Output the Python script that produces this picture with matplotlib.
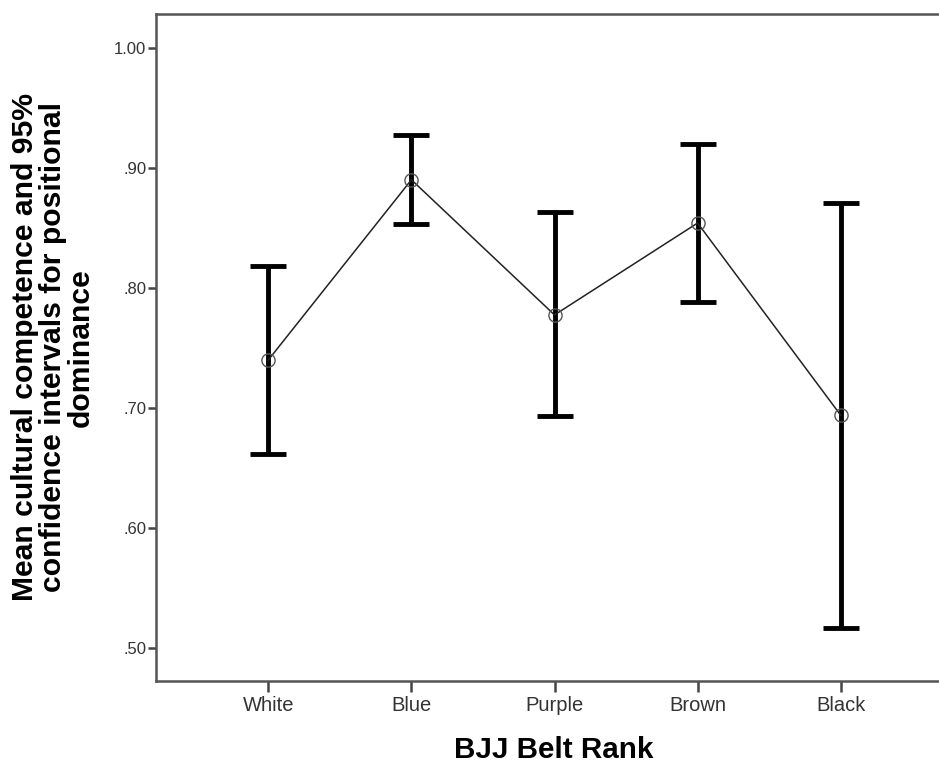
import matplotlib
matplotlib.use("Agg")
import matplotlib.pyplot as plt

belts = ["White", "Blue", "Purple", "Brown", "Black"]
means = [0.740, 0.890, 0.7775, 0.854, 0.694]
ci_lower = [0.662, 0.853, 0.693, 0.788, 0.517]
ci_upper = [0.818, 0.927, 0.863, 0.920, 0.8705]
yticks = [0.50, 0.60, 0.70, 0.80, 0.90, 1.00]
ytick_labels = [".50", ".60", ".70", ".80", ".90", "1.00"]

plt.rcParams['font.family'] = ['Liberation Sans', 'DejaVu Sans']

fig = plt.figure(figsize=(9.39, 7.65), dpi=100)
ax = fig.add_axes([156/939, 1 - 680.7/765, 1 - 156/939, (680.7 - 14)/765])

x = list(range(len(belts)))
lo = [m - l for m, l in zip(means, ci_lower)]
hi = [u - m for m, u in zip(means, ci_upper)]
ax.errorbar(x, means, yerr=[lo, hi], fmt='none', ecolor='black',
            elinewidth=3.5, capsize=13, capthick=3.5, zorder=2)
ax.plot(x, means, color='#222222', linewidth=1.1, zorder=3)
ax.plot(x, means, linestyle='none', marker='o', markersize=9.5,
        markerfacecolor='none', markeredgecolor='#555555', markeredgewidth=1.0, zorder=4)

ax.set_xlim(-0.785, 4.687)
ax.set_ylim(0.473, 1.028)
ax.set_xticks(x)
ax.set_xticklabels(belts, fontsize=14.5, color='#333333')
ax.set_yticks(yticks)
ax.set_yticklabels(ytick_labels, fontsize=12, color='#333333')

for s in ['left', 'bottom', 'top']:
    ax.spines[s].set_color('#555555')
    ax.spines[s].set_linewidth(1.8)
ax.spines['right'].set_visible(False)
ax.tick_params(axis='y', length=6, width=1.8, color='#444444', pad=1)
ax.tick_params(axis='x', length=8, width=1.8, color='#444444', pad=3)

ax.set_xlabel("BJJ Belt Rank", fontsize=21.3, fontweight='bold', labelpad=15)
ax.xaxis.label.set_x((554 - 156) / (939 - 156))
ax.set_ylabel("Mean cultural competence and 95%\nconfidence intervals for positional\ndominance",
              fontsize=21.7, fontweight='bold', linespacing=1.0, labelpad=14)

fig.savefig("out.png", dpi=100)
